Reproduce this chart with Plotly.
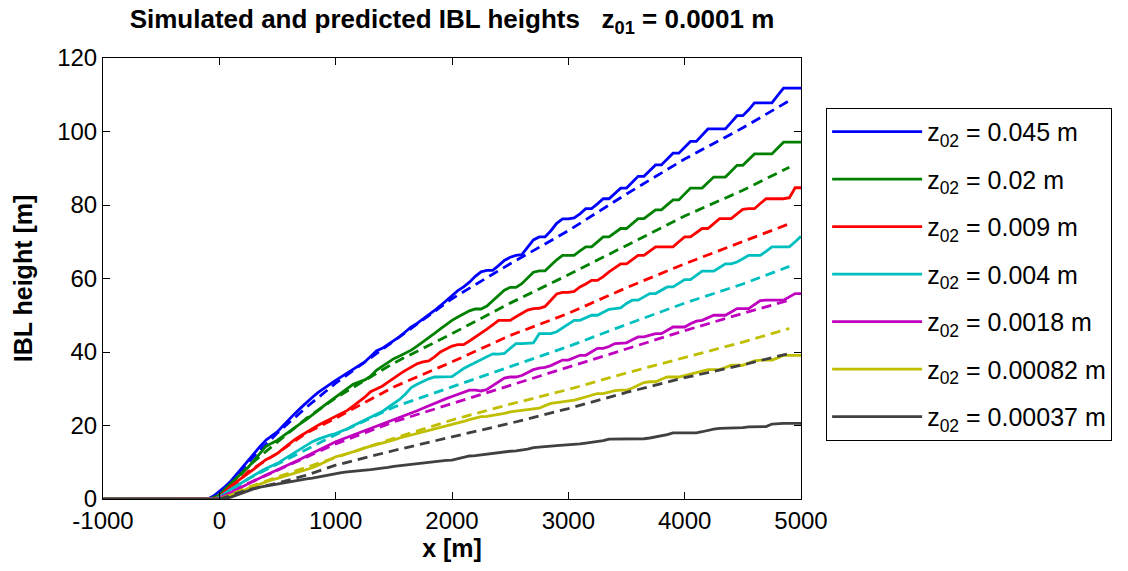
import plotly.graph_objects as go

# Downwind distance grid of the simulated profiles [m]
X_SIM = [-1000, -100, -50] + list(range(0, 5001, 50))
# Distance grid of the predicted (analytical) heights [m]
X_PRED = [0, 250, 500, 750, 1000, 1500, 2000, 2500, 3000, 3500, 4000, 4500, 4900]

LABELS = ["0.045", "0.02", "0.009", "0.004", "0.0018", "0.00082", "0.00037"]
COLORS = ["#0000ff", "#008000", "#ff0000", "#00bfbf", "#bf00bf", "#bfbf00", "#404040"]

# Simulated IBL heights [m]
SIM_045 = [0, 0, 0.8,
           2.0, 3.4, 4.9, 6.7, 8.6, 10.5, 12.4, 14.3, 16.0, 17.2,
           18.3, 20.0, 21.8, 23.3, 24.8, 26.3, 27.7, 29.0, 30.0, 31.2,
           32.3, 33.3, 34.4, 35.3, 36.4, 37.3, 38.8, 40.3, 41.0, 42.0,
           43.2, 44.2, 45.5, 46.8, 47.8, 48.9, 50.0, 51.3, 52.6, 54.0,
           55.4, 56.7, 57.7, 59.0, 60.6, 61.8, 62.2, 62.2, 63.5, 64.9,
           65.8, 66.3, 66.5, 68.5, 70.5, 71.3, 71.3, 73.0, 75.0, 76.2,
           76.2, 76.5, 77.6, 79.0, 79.0, 80.3, 81.7, 81.7, 83.2, 84.6,
           84.6, 86.2, 87.8, 87.8, 89.3, 90.9, 90.9, 92.5, 94.1, 94.1,
           95.7, 97.3, 97.3, 99.0, 100.7, 100.7, 100.7, 100.7, 102.5, 104.3,
           104.3, 105.9, 107.8, 107.8, 107.8, 107.8, 109.8, 111.8, 111.8, 111.8,
           111.8]
SIM_02 = [0, 0, 0.4,
          1.1, 2.7, 4.4, 5.8, 7.3, 8.7, 10.5, 12.5, 14.3, 15.2,
          16.0, 17.2, 18.4, 19.5, 20.6, 21.7, 22.8, 24.1, 25.4, 26.6,
          27.8, 29.0, 30.2, 31.2, 31.8, 32.4, 33.4, 35.0, 36.1, 37.2,
          38.2, 38.9, 39.7, 40.5, 41.6, 42.7, 43.9, 45.1, 46.3, 47.5,
          48.6, 49.5, 50.3, 51.2, 51.7, 51.7, 52.5, 54.0, 55.5, 56.8,
          57.6, 57.6, 58.6, 60.2, 61.7, 62.1, 62.1, 63.6, 65.1, 66.3,
          66.3, 66.3, 67.5, 68.6, 68.6, 69.9, 71.3, 71.3, 72.4, 73.6,
          73.6, 74.9, 76.3, 76.3, 77.5, 78.7, 78.7, 80.0, 81.4, 81.4,
          83.0, 84.6, 84.6, 84.6, 86.1, 87.6, 87.6, 87.6, 89.2, 90.8,
          90.8, 92.3, 93.9, 93.9, 93.9, 93.9, 95.5, 97.1, 97.1, 97.1,
          97.1]
SIM_009 = [0, 0, 0.1,
           0.6, 2.2, 3.6, 4.7, 5.8, 6.9, 8.2, 9.5, 10.7, 11.5,
           12.4, 13.7, 15.0, 16.2, 17.2, 18.2, 19.2, 20.1, 20.9, 21.7,
           22.4, 23.3, 24.1, 25.3, 26.5, 27.7, 29.2, 30.0, 30.7, 31.8,
           33.0, 34.0, 35.0, 36.0, 36.8, 37.3, 37.6, 38.7, 40.0, 40.8,
           41.6, 42.0, 42.0, 43.0, 44.0, 45.0, 46.2, 47.4, 48.6, 48.6,
           48.6, 49.6, 50.6, 51.4, 51.8, 51.9, 52.4, 54.0, 55.8, 56.2,
           56.2, 56.5, 57.7, 58.5, 59.5, 59.5, 60.5, 61.8, 63.0, 64.0,
           64.0, 65.2, 66.3, 66.3, 67.4, 68.6, 68.6, 68.6, 68.6, 70.0,
           71.3, 71.3, 72.5, 73.6, 73.6, 75.0, 76.3, 76.3, 76.3, 77.6,
           78.8, 79.0, 79.0, 80.4, 81.7, 81.7, 81.7, 81.7, 82.0, 84.7,
           84.7]
SIM_004 = [0, 0, 0,
           0.5, 1.7, 2.7, 3.6, 4.6, 5.5, 6.5, 7.4, 8.3, 9.0,
           9.7, 10.7, 11.7, 12.7, 13.7, 14.7, 15.6, 16.3, 16.9, 17.4,
           17.8, 18.4, 19.1, 19.9, 20.7, 21.5, 22.3, 23.0, 23.8, 24.9,
           25.9, 27.1, 28.6, 30.3, 31.2, 32.0, 32.7, 33.2, 33.2, 33.2,
           33.3, 34.4, 35.5, 36.3, 37.1, 38.0, 38.8, 39.5, 39.4, 39.6,
           41.0, 42.3, 42.3, 42.3, 42.5, 45.0, 45.0, 45.0, 45.5, 46.5,
           47.6, 48.6, 48.6, 49.3, 50.0, 50.0, 50.8, 51.6, 51.8, 52.0,
           53.2, 54.1, 54.1, 55.0, 55.9, 55.9, 56.8, 57.7, 57.7, 58.7,
           59.7, 59.7, 60.8, 62.0, 62.0, 62.0, 63.0, 64.0, 64.0, 64.5,
           65.4, 66.3, 66.3, 66.3, 67.4, 68.6, 68.6, 68.6, 68.6, 70.0,
           71.5]
SIM_0018 = [0, 0, 0,
            0.2, 1.0, 1.8, 2.6, 3.5, 4.3, 5.0, 5.8, 6.5, 7.2,
            7.9, 8.7, 9.4, 10.1, 10.9, 11.7, 12.5, 13.4, 14.2, 14.9,
            15.6, 16.2, 16.8, 17.4, 17.9, 18.5, 19.1, 19.7, 20.2, 20.8,
            21.5, 22.1, 22.8, 23.4, 24.0, 24.7, 25.4, 26.0, 26.7, 27.3,
            27.9, 28.5, 29.1, 29.6, 29.6, 29.4, 29.8, 30.9, 31.9, 32.9,
            33.2, 33.2, 33.6, 34.4, 35.2, 35.6, 35.8, 36.3, 37.0, 37.8,
            37.8, 38.5, 39.1, 39.1, 40.0, 41.0, 41.0, 41.5, 42.3, 42.5,
            42.5, 43.3, 44.1, 44.1, 44.5, 45.0, 45.0, 45.9, 46.8, 46.8,
            46.8, 47.7, 48.4, 48.6, 49.3, 50.0, 50.0, 50.0, 50.9, 51.8,
            51.8, 51.8, 52.9, 54.0, 54.1, 54.1, 54.1, 54.1, 55.0, 55.9,
            55.9]
SIM_00082 = [0, 0, 0,
             0.0, 0.5, 1.0, 1.6, 2.2, 2.9, 3.5, 4.1, 4.7, 5.2,
             5.6, 6.1, 6.6, 7.1, 7.5, 7.9, 8.5, 9.2, 10.0, 10.8,
             11.5, 11.9, 12.3, 12.8, 13.3, 13.9, 14.3, 14.7, 15.1, 15.6,
             16.1, 16.6, 17.0, 17.4, 17.8, 18.2, 18.6, 19.0, 19.4, 19.8,
             20.1, 20.6, 21.1, 21.6, 22.0, 22.4, 22.5, 22.7, 22.9, 23.3,
             23.7, 23.9, 24.1, 24.3, 24.5, 24.7, 25.4, 26.0, 26.2, 26.4,
             26.6, 26.9, 27.3, 27.8, 28.2, 28.7, 28.7, 29.1, 29.5, 29.6,
             29.6, 30.2, 31.0, 31.7, 31.9, 31.9, 32.6, 33.2, 33.2, 33.2,
             33.6, 34.0, 34.3, 34.8, 35.2, 35.2, 35.2, 35.8, 36.4, 36.4,
             36.4, 37.0, 37.6, 37.8, 37.8, 37.8, 38.4, 39.1, 39.1, 39.1,
             39.1]
SIM_00037 = [0, 0, 0,
             0.0, 0.1, 0.5, 1.1, 1.8, 2.4, 2.8, 3.2, 3.5, 3.8,
             4.0, 4.4, 4.8, 5.1, 5.3, 5.5, 5.7, 6.0, 6.4, 6.8,
             7.0, 7.2, 7.4, 7.6, 7.7, 7.8, 8.0, 8.2, 8.3, 8.6,
             8.9, 9.1, 9.2, 9.4, 9.6, 9.9, 10.1, 10.3, 10.4, 10.5,
             10.6, 11.0, 11.4, 11.7, 11.8, 12.0, 12.2, 12.5, 12.8, 12.9,
             13.0, 13.1, 13.3, 13.6, 14.0, 14.2, 14.3, 14.4, 14.5, 14.6,
             14.7, 14.8, 15.0, 15.2, 15.4, 15.6, 15.9, 16.3, 16.3, 16.3,
             16.3, 16.3, 16.3, 16.4, 16.6, 16.9, 17.0, 17.5, 18.0, 18.0,
             18.0, 18.0, 18.0, 18.3, 18.7, 19.0, 19.2, 19.2, 19.2, 19.2,
             19.4, 19.6, 19.6, 19.6, 19.7, 20.4, 20.6, 20.6, 20.6, 20.6,
             20.6]

# Predicted IBL heights [m]
PRED_045 = [0, 10.0, 18.0, 25.0, 31.5, 43.0, 54.5, 64.0, 73.0, 83.0, 92.5, 101.0, 108.4]
PRED_02 = [0, 9.0, 15.5, 22.0, 27.5, 37.0, 45.0, 53.3, 61.0, 69.0, 77.0, 84.0, 90.3]
PRED_009 = [0, 7.5, 12.5, 18.0, 22.0, 30.5, 37.3, 44.5, 50.5, 57.5, 64.0, 70.0, 74.9]
PRED_004 = [0, 5.5, 9.5, 13.5, 17.5, 25.0, 30.5, 36.0, 41.5, 47.5, 53.3, 58.5, 63.3]
PRED_0018 = [0, 4.3, 7.8, 11.5, 15.0, 21.0, 26.0, 31.0, 36.0, 41.0, 45.8, 50.5, 54.1]
PRED_00082 = [0, 3.2, 6.0, 8.7, 11.3, 16.5, 21.5, 25.8, 29.8, 34.3, 38.6, 42.7, 46.4]
PRED_00037 = [0, 2.5, 4.3, 6.5, 9.2, 13.2, 16.9, 20.6, 24.6, 29.0, 33.0, 36.5, 39.6]

SIMULATED = [SIM_045, SIM_02, SIM_009, SIM_004, SIM_0018, SIM_00082, SIM_00037]
PREDICTED = [PRED_045, PRED_02, PRED_009, PRED_004, PRED_0018, PRED_00082, PRED_00037]

X_TICKS = [-1000, 0, 1000, 2000, 3000, 4000, 5000]
X_TICKTEXT = ["-1000", "0", "1000", "2000", "3000", "4000", "5000"]
Y_TICKS = [0, 20, 40, 60, 80, 100, 120]

for ys in SIMULATED:
    assert len(ys) == len(X_SIM), len(ys)

FONT = "Liberation Sans, Arial, sans-serif"

fig = go.Figure()
for i, (lab, col, sim, pred) in enumerate(zip(LABELS, COLORS, SIMULATED, PREDICTED)):
    fig.add_trace(go.Scatter(
        x=X_SIM, y=sim, mode="lines",
        line=dict(color=col, width=2.8),
        name=f"z<sub>02</sub> = {lab} m",
        legendgroup=f"g{i}", showlegend=True,
    ))
    fig.add_trace(go.Scatter(
        x=X_PRED, y=pred, mode="lines",
        line=dict(color=col, width=2.8, dash="10px,6px"),
        name=f"predicted {lab}",
        legendgroup=f"g{i}", showlegend=False,
    ))

axis_common = dict(
    showline=True, linecolor="black", linewidth=1, mirror="ticks",
    ticks="inside", ticklen=7, tickcolor="black", tickwidth=1,
    showgrid=False, zeroline=False,
    tickfont=dict(family=FONT, size=24, color="black"),
)

fig.update_layout(
    width=1128, height=571,
    margin=dict(l=103, r=327, t=58, b=72),
    paper_bgcolor="white", plot_bgcolor="white",
    title=dict(
        text="<b>Simulated and predicted IBL heights   z<sub>01</sub> = 0.0001 m</b>",
        x=0.5, xref="paper", y=0.982, yref="container", yanchor="top",
        font=dict(family=FONT, size=26, color="black"),
    ),
    xaxis=dict(
        range=[-1000, 5000], tickvals=X_TICKS, ticktext=X_TICKTEXT,
        title=dict(text="<b>x [m]</b>", font=dict(family=FONT, size=25, color="black"), standoff=4),
        **axis_common,
    ),
    yaxis=dict(
        range=[0, 120], tickvals=Y_TICKS,
        title=dict(text="<b>IBL height [m]</b>", font=dict(family=FONT, size=25, color="black"), standoff=17),
        **axis_common,
    ),
    legend=dict(
        x=1.036, y=0.887, xanchor="left", yanchor="top",
        bordercolor="black", borderwidth=1, bgcolor="white",
        font=dict(family=FONT, size=25, color="black"),
        itemwidth=90, tracegroupgap=12,
    ),
    showlegend=True,
)

fig.write_html("out.html")
